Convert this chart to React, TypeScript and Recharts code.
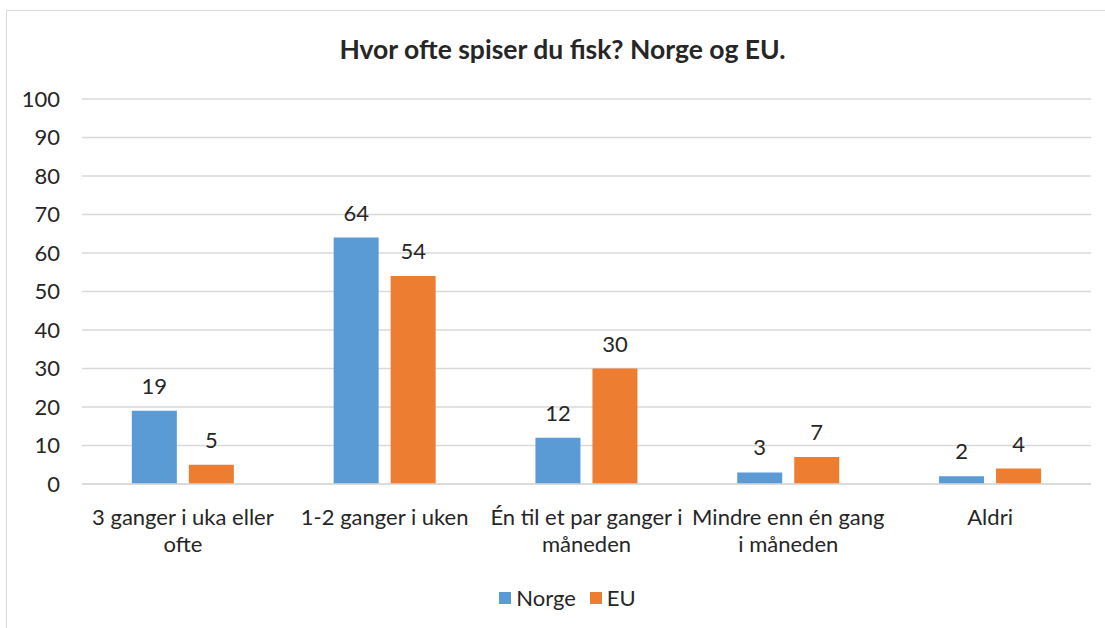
import React from 'react';
import { BarChart, Bar, XAxis, YAxis, CartesianGrid, Legend, LabelList } from 'recharts';

const categories = [
  '3 ganger i uka eller\nofte',
  '1-2 ganger i uken',
  'Én til et par ganger i\nmåneden',
  'Mindre enn én gang\ni måneden',
  'Aldri',
];
const norge = [19, 64, 12, 3, 2];
const eu = [5, 54, 30, 7, 4];
const yTicks = [0, 10, 20, 30, 40, 50, 60, 70, 80, 90, 100];
const seriesNames = ['Norge', 'EU'];
const seriesColors = ['#5b9bd5', '#ed7d31'];

const data = categories.map((name, i) => ({ name, Norge: norge[i], EU: eu[i] }));

const FONT = 'Lato, "Open Sans", sans-serif';
const TEXT = '#262626';
const SIZE = 22;

function CategoryTick(props: any) {
  const { x, y, payload } = props;
  const lines = String(payload.value).split('\n');
  return (
    <text x={x} y={y} textAnchor="middle" fill={TEXT} fontSize={SIZE} fontFamily={FONT}>
      {lines.map((line, i) => (
        <tspan key={i} x={x} dy={i === 0 ? 33 : 27}>{line}</tspan>
      ))}
    </text>
  );
}

function LegendContent() {
  return (
    <div style={{ display: 'flex', justifyContent: 'center', alignItems: 'center', gap: 14, fontFamily: FONT, fontSize: SIZE, color: TEXT }}>
      {seriesNames.map((s, i) => (
        <span key={s} style={{ display: 'flex', alignItems: 'center', gap: 5 }}>
          <span style={{ width: 12, height: 12, background: seriesColors[i], display: 'inline-block' }} />
          {s}
        </span>
      ))}
    </div>
  );
}

export default function App() {
  return (
    <div style={{ position: 'absolute', left: 0, top: 0, width: 1105, height: 628, background: '#fff', overflow: 'hidden' }}>
      <div style={{ position: 'absolute', left: 6, top: 10, width: 1110, height: 640, border: '1px solid #d9d9d9' }} />
      <div
        style={{
          position: 'absolute', left: 0, top: 33, width: 1125, textAlign: 'center',
          fontFamily: FONT, fontWeight: 700, fontSize: 26.5, color: TEXT,
        }}
      >
        Hvor ofte spiser du fisk? Norge og EU.
      </div>
      <div style={{ position: 'absolute', left: 0, top: 0 }}>
        <BarChart
          width={1105}
          height={628}
          data={data}
          margin={{ top: 99, right: 14, left: 0, bottom: 0 }}
          barCategoryGap="24.7%"
          barGap={12}
        >
          <CartesianGrid vertical={false} stroke="#d9d9d9" strokeWidth={1.5} />
          <XAxis
            dataKey="name"
            height={117}
            interval={0}
            tickLine={false}
            axisLine={{ stroke: '#d9d9d9', strokeWidth: 1.5 }}
            tick={<CategoryTick />}
          />
          <YAxis
            width={82}
            domain={[0, 100]}
            ticks={yTicks}
            axisLine={false}
            tickLine={false}
            tickMargin={16}
            tick={{ fill: TEXT, fontSize: SIZE, fontFamily: FONT }}
          />
          <Legend
            verticalAlign="bottom"
            content={<LegendContent />}
            wrapperStyle={{ top: 584, left: 0, width: 1135 }}
          />
          <Bar dataKey="Norge" fill={seriesColors[0]} isAnimationActive={false}>
            <LabelList dataKey="Norge" position="top" offset={17} fill={TEXT} fontSize={SIZE} fontFamily={FONT} />
          </Bar>
          <Bar dataKey="EU" fill={seriesColors[1]} isAnimationActive={false}>
            <LabelList dataKey="EU" position="top" offset={17} fill={TEXT} fontSize={SIZE} fontFamily={FONT} />
          </Bar>
        </BarChart>
      </div>
    </div>
  );
}
